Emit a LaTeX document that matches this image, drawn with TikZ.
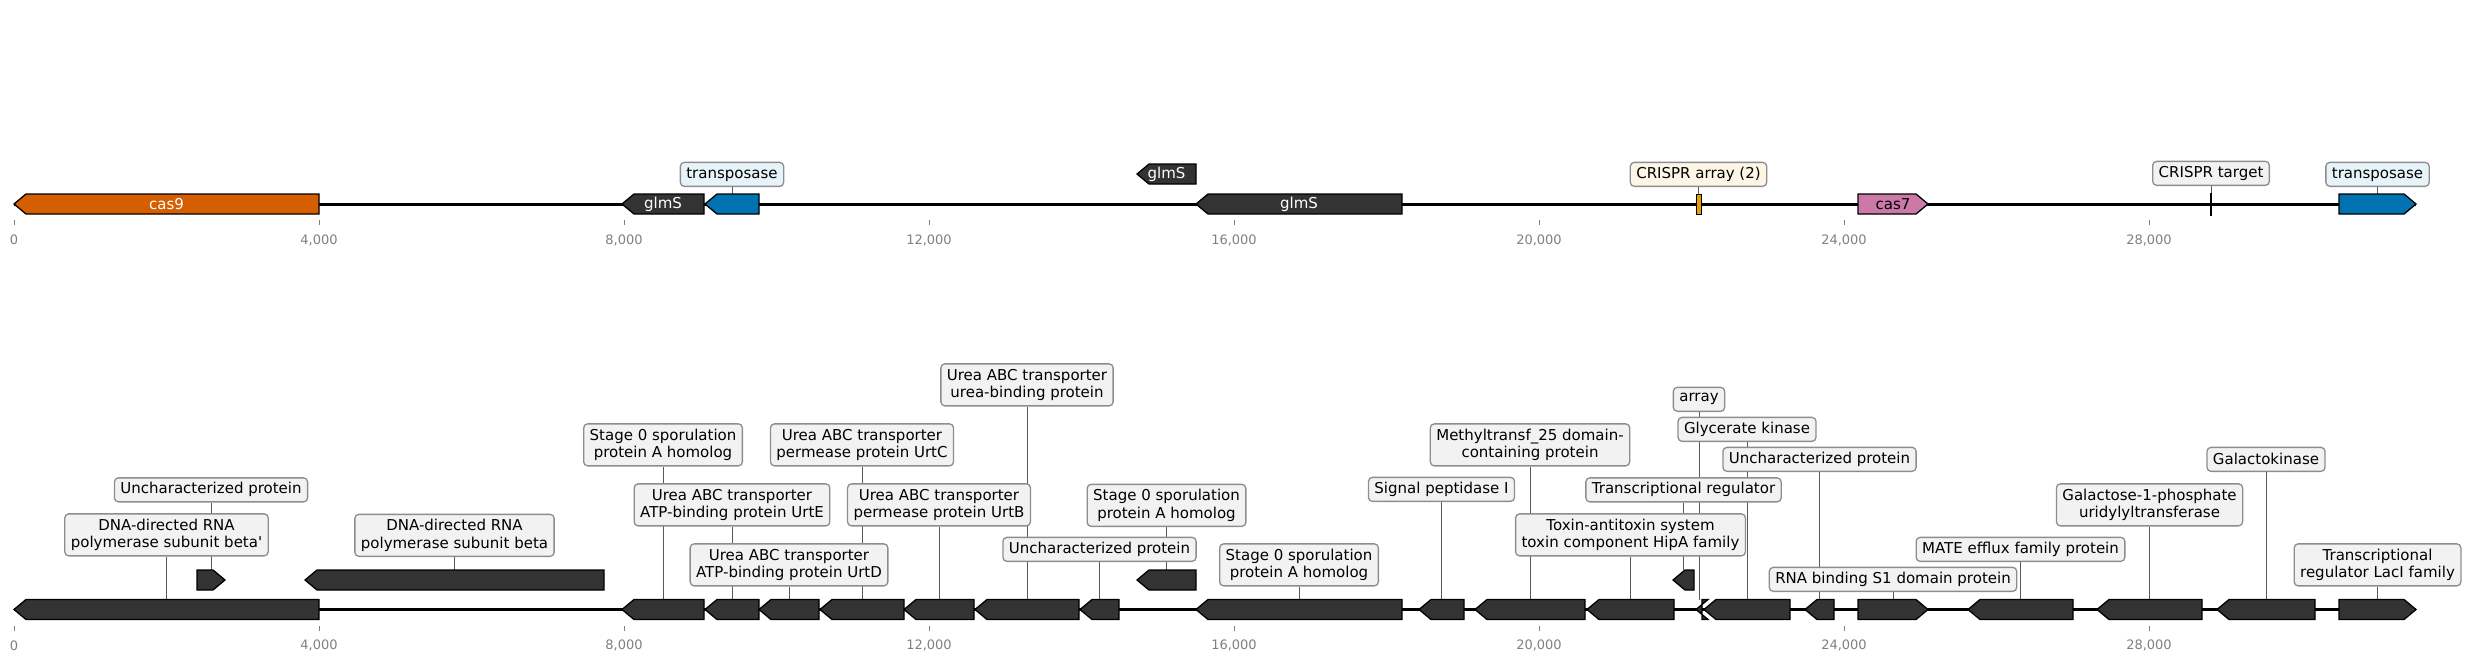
\documentclass[tikz,border=0pt]{standalone}
\usepackage{fontspec}
\setmainfont{DejaVu Sans}
\usepackage{tikz}
\usetikzlibrary{positioning,backgrounds}
\definecolor{figOrange}{HTML}{D55E00}
\definecolor{figBlue}{HTML}{0072B2}
\definecolor{figPink}{HTML}{CC79A7}
\definecolor{figAmber}{HTML}{E69F00}
\definecolor{figDark}{HTML}{333333}
\definecolor{figGray}{HTML}{808080}
\definecolor{boxGray}{HTML}{F2F2F2}
\definecolor{boxBlue}{HTML}{E6F4FA}
\definecolor{boxAmber}{HTML}{FDF6E6}

\newcommand{\lblfont}{\fontsize{15}{17.5}\selectfont}
\newcommand{\tickfont}{\fontsize{13}{15}\selectfont}

% gene arrow pointing left / right: [fill]{name}{x1}{x2}{y centre}
\newcommand{\geneL}[5][figDark]{%
  \filldraw[gene, fill=#1] (#3,#5) -- (#3+12,#5-10) -- (#4,#5-10)
    -- (#4,#5+10) -- (#3+12,#5+10) -- cycle;
  \coordinate (#2) at ({(#3+#4)/2},#5-10);
  \coordinate (#2-c) at ({(#3+#4)/2},#5);}
\newcommand{\geneR}[5][figDark]{%
  \filldraw[gene, fill=#1] (#4,#5) -- (#4-12,#5-10) -- (#3,#5-10)
    -- (#3,#5+10) -- (#4-12,#5+10) -- cycle;
  \coordinate (#2) at ({(#3+#4)/2},#5-10);
  \coordinate (#2-c) at ({(#3+#4)/2},#5);}

\begin{document}
\begin{tikzpicture}[
  % picture units are pixels of the 2467 x 659 figure, y runs down
  x=1pt, y=-1pt,
  gene/.style={draw=black, line width=1.3pt, line join=miter},
  gtxt/.style={font=\lblfont, text=white, inner sep=0pt},
  lbl/.style={
    draw=figGray!90, fill=boxGray, rounded corners=4pt,
    line width=1.3pt, font=\lblfont,
    inner xsep=6pt, inner ysep=3pt, minimum height=24pt
  },
  lbltwo/.style={lbl, align=center, minimum height=42pt},
  conn/.style={draw=black!65, line width=1pt},
  track/.style={line width=3pt},
  tick/.style={draw=figGray, line width=1pt},
  ticklbl/.style={font=\tickfont, text=figGray, inner sep=0pt},
]
\useasboundingbox (0,0) rectangle (2467,659);

% --- Track lines and axis ticks ---
\foreach \ty/\tr in {204/a, 609.5/b} {
  \draw[track] (14,\ty) -- (2416,\ty);
  \foreach \k in {0,...,7} {
    \pgfmathtruncatemacro{\kb}{4*\k}
    \draw[tick] (14+305*\k,\ty+16) -- (14+305*\k,\ty+21);
    \node[ticklbl] (t\tr-\k) at (14+305*\k,\ty+36)
      {\ifnum\k=0 0\else\kb,000\fi};
  }
}

% --- Top track: CRISPR locus ---
\geneL[figOrange]{g-cas9}{14}{319}{204}
\geneL{g-glmSa}{622}{704}{204}
\geneL[figBlue]{g-tnpa}{705}{759}{204}
\geneL{g-glmSb}{1137}{1196}{174}
\geneL{g-glmSc}{1196}{1402}{204}
\filldraw[gene, line width=1pt, fill=figAmber] (1696,194) rectangle (1701,214);
\coordinate (g-crA) at (1698.5,194);
\geneR[figPink]{g-cas7}{1858}{1928}{204}
\draw[line width=2.2pt] (2211,193) -- (2211,216);
\coordinate (g-tgt) at (2211,193);
\geneR[figBlue]{g-tnpb}{2339}{2416}{204}

\node[gtxt] (n-cas9) at (g-cas9-c) {cas9};
\node[gtxt] (n-glmSa) at (g-glmSa-c) {glmS};
\node[gtxt] (n-glmSb) at (g-glmSb-c) {glmS};
\node[gtxt] (n-glmSc) at (g-glmSc-c) {glmS};
\node[gtxt, text=black] (n-cas7) at (g-cas7-c) {cas7};

\node[lbl, fill=boxBlue, above=7pt of g-tnpa] (l-tnpa) {transposase};
\node[lbl, fill=boxAmber, above=7pt of g-crA] (l-crA) {CRISPR array (2)};
\node[lbl, above=7pt of g-tgt] (l-tgt) {CRISPR target};
\node[lbl, fill=boxBlue, above=7pt of g-tnpb] (l-tnpb) {transposase};

% --- Bottom track: annotated neighbourhood ---
\geneL{g-rpoC}{14}{319}{609.5}
\geneR{g-unkA}{197}{225}{580}
\geneL{g-rpoB}{305}{604}{580}
\geneL{g-spoA}{622}{704}{609.5}
\geneL{g-urtE}{705}{759}{609.5}
\geneL{g-urtD}{759}{819}{609.5}
\geneL{g-urtC}{820}{904}{609.5}
\geneL{g-urtB}{904}{974}{609.5}
\geneL{g-urtA}{975}{1079}{609.5}
\geneL{g-unkB}{1080}{1119}{609.5}
\geneL{g-spoB}{1137}{1196}{580}
\geneL{g-spoC}{1196}{1402}{609.5}
\geneL{g-sip}{1419}{1464}{609.5}
\geneL{g-mtf}{1475}{1585}{609.5}
\geneL{g-hipA}{1587}{1674}{609.5}
\geneL{g-treg}{1673}{1694}{580}
\geneL{g-arr}{1696}{1702}{609.5}
\geneL{g-glxK}{1704}{1790}{609.5}
\geneL{g-unkC}{1805}{1834}{609.5}
\geneR{g-rbs}{1858}{1928}{609.5}
\geneL{g-mate}{1968}{2073}{609.5}
\geneL{g-galT}{2097}{2202}{609.5}
\geneL{g-galK}{2217}{2315}{609.5}
\geneR{g-lacI}{2339}{2416}{609.5}

\node[lbltwo, above=43pt of g-rpoC] (l-rpoC)
  {DNA-directed RNA\\polymerase subunit beta\textquotesingle};
\node[lbl, above=67.5pt of g-unkA] (l-unkA) {Uncharacterized protein~};
\node[lbltwo, above=13pt of g-rpoB] (l-rpoB)
  {DNA-directed RNA\\polymerase subunit beta};
\node[lbltwo, above=133pt of g-spoA] (l-spoA)
  {Stage 0 sporulation\\protein A homolog};
\node[lbltwo, above=73pt of g-urtE] (l-urtE)
  {Urea ABC transporter\\ATP-binding protein UrtE};
\node[lbltwo, above=13pt of g-urtD] (l-urtD)
  {Urea ABC transporter\\ATP-binding protein UrtD};
\node[lbltwo, above=133pt of g-urtC] (l-urtC)
  {Urea ABC transporter\\permease protein UrtC};
\node[lbltwo, above=73pt of g-urtB] (l-urtB)
  {Urea ABC transporter\\permease protein UrtB};
\node[lbltwo, above=193pt of g-urtA] (l-urtA)
  {Urea ABC transporter\\urea-binding protein};
\node[lbl, above=37.5pt of g-unkB] (l-unkB) {Uncharacterized protein~};
\node[lbltwo, above=43pt of g-spoB] (l-spoB)
  {Stage 0 sporulation\\protein A homolog};
\node[lbltwo, above=13pt of g-spoC] (l-spoC)
  {Stage 0 sporulation\\protein A homolog};
\node[lbl, above=97.5pt of g-sip] (l-sip) {Signal peptidase I~};
\node[lbltwo, above=133pt of g-mtf] (l-mtf)
  {Methyltransf\_25 domain-\\containing protein};
\node[lbltwo, above=43pt of g-hipA] (l-hipA)
  {Toxin-antitoxin system\\toxin component HipA family};
\node[lbl, above=67.5pt of g-treg] (l-treg) {Transcriptional regulator~};
\node[lbl, above=187.5pt of g-arr] (l-arr) {array};
\node[lbl, above=157.5pt of g-glxK] (l-glxK) {Glycerate kinase~};
\node[lbl, above=127.5pt of g-unkC] (l-unkC) {Uncharacterized protein~};
\node[lbl, above=7.5pt of g-rbs] (l-rbs) {RNA binding S1 domain protein~};
\node[lbl, above=37.5pt of g-mate] (l-mate) {MATE efflux family protein~};
\node[lbltwo, above=73pt of g-galT] (l-galT)
  {Galactose-1-phosphate\\uridylyltransferase};
\node[lbl, above=127.5pt of g-galK] (l-galK) {Galactokinase~};
\node[lbltwo, above=13pt of g-lacI] (l-lacI)
  {Transcriptional\\regulator LacI family};

% --- Leader lines (behind the boxes) ---
\begin{pgfonlayer}{background}
  \foreach \g in {tnpa,crA,tgt,tnpb,rpoC,unkA,rpoB,spoA,urtE,urtD,urtC,
                  urtB,urtA,unkB,spoB,spoC,sip,mtf,hipA,treg,arr,glxK,
                  unkC,rbs,mate,galT,galK,lacI}
    \draw[conn] (l-\g.south) -- (g-\g);
\end{pgfonlayer}

\end{tikzpicture}
\end{document}
